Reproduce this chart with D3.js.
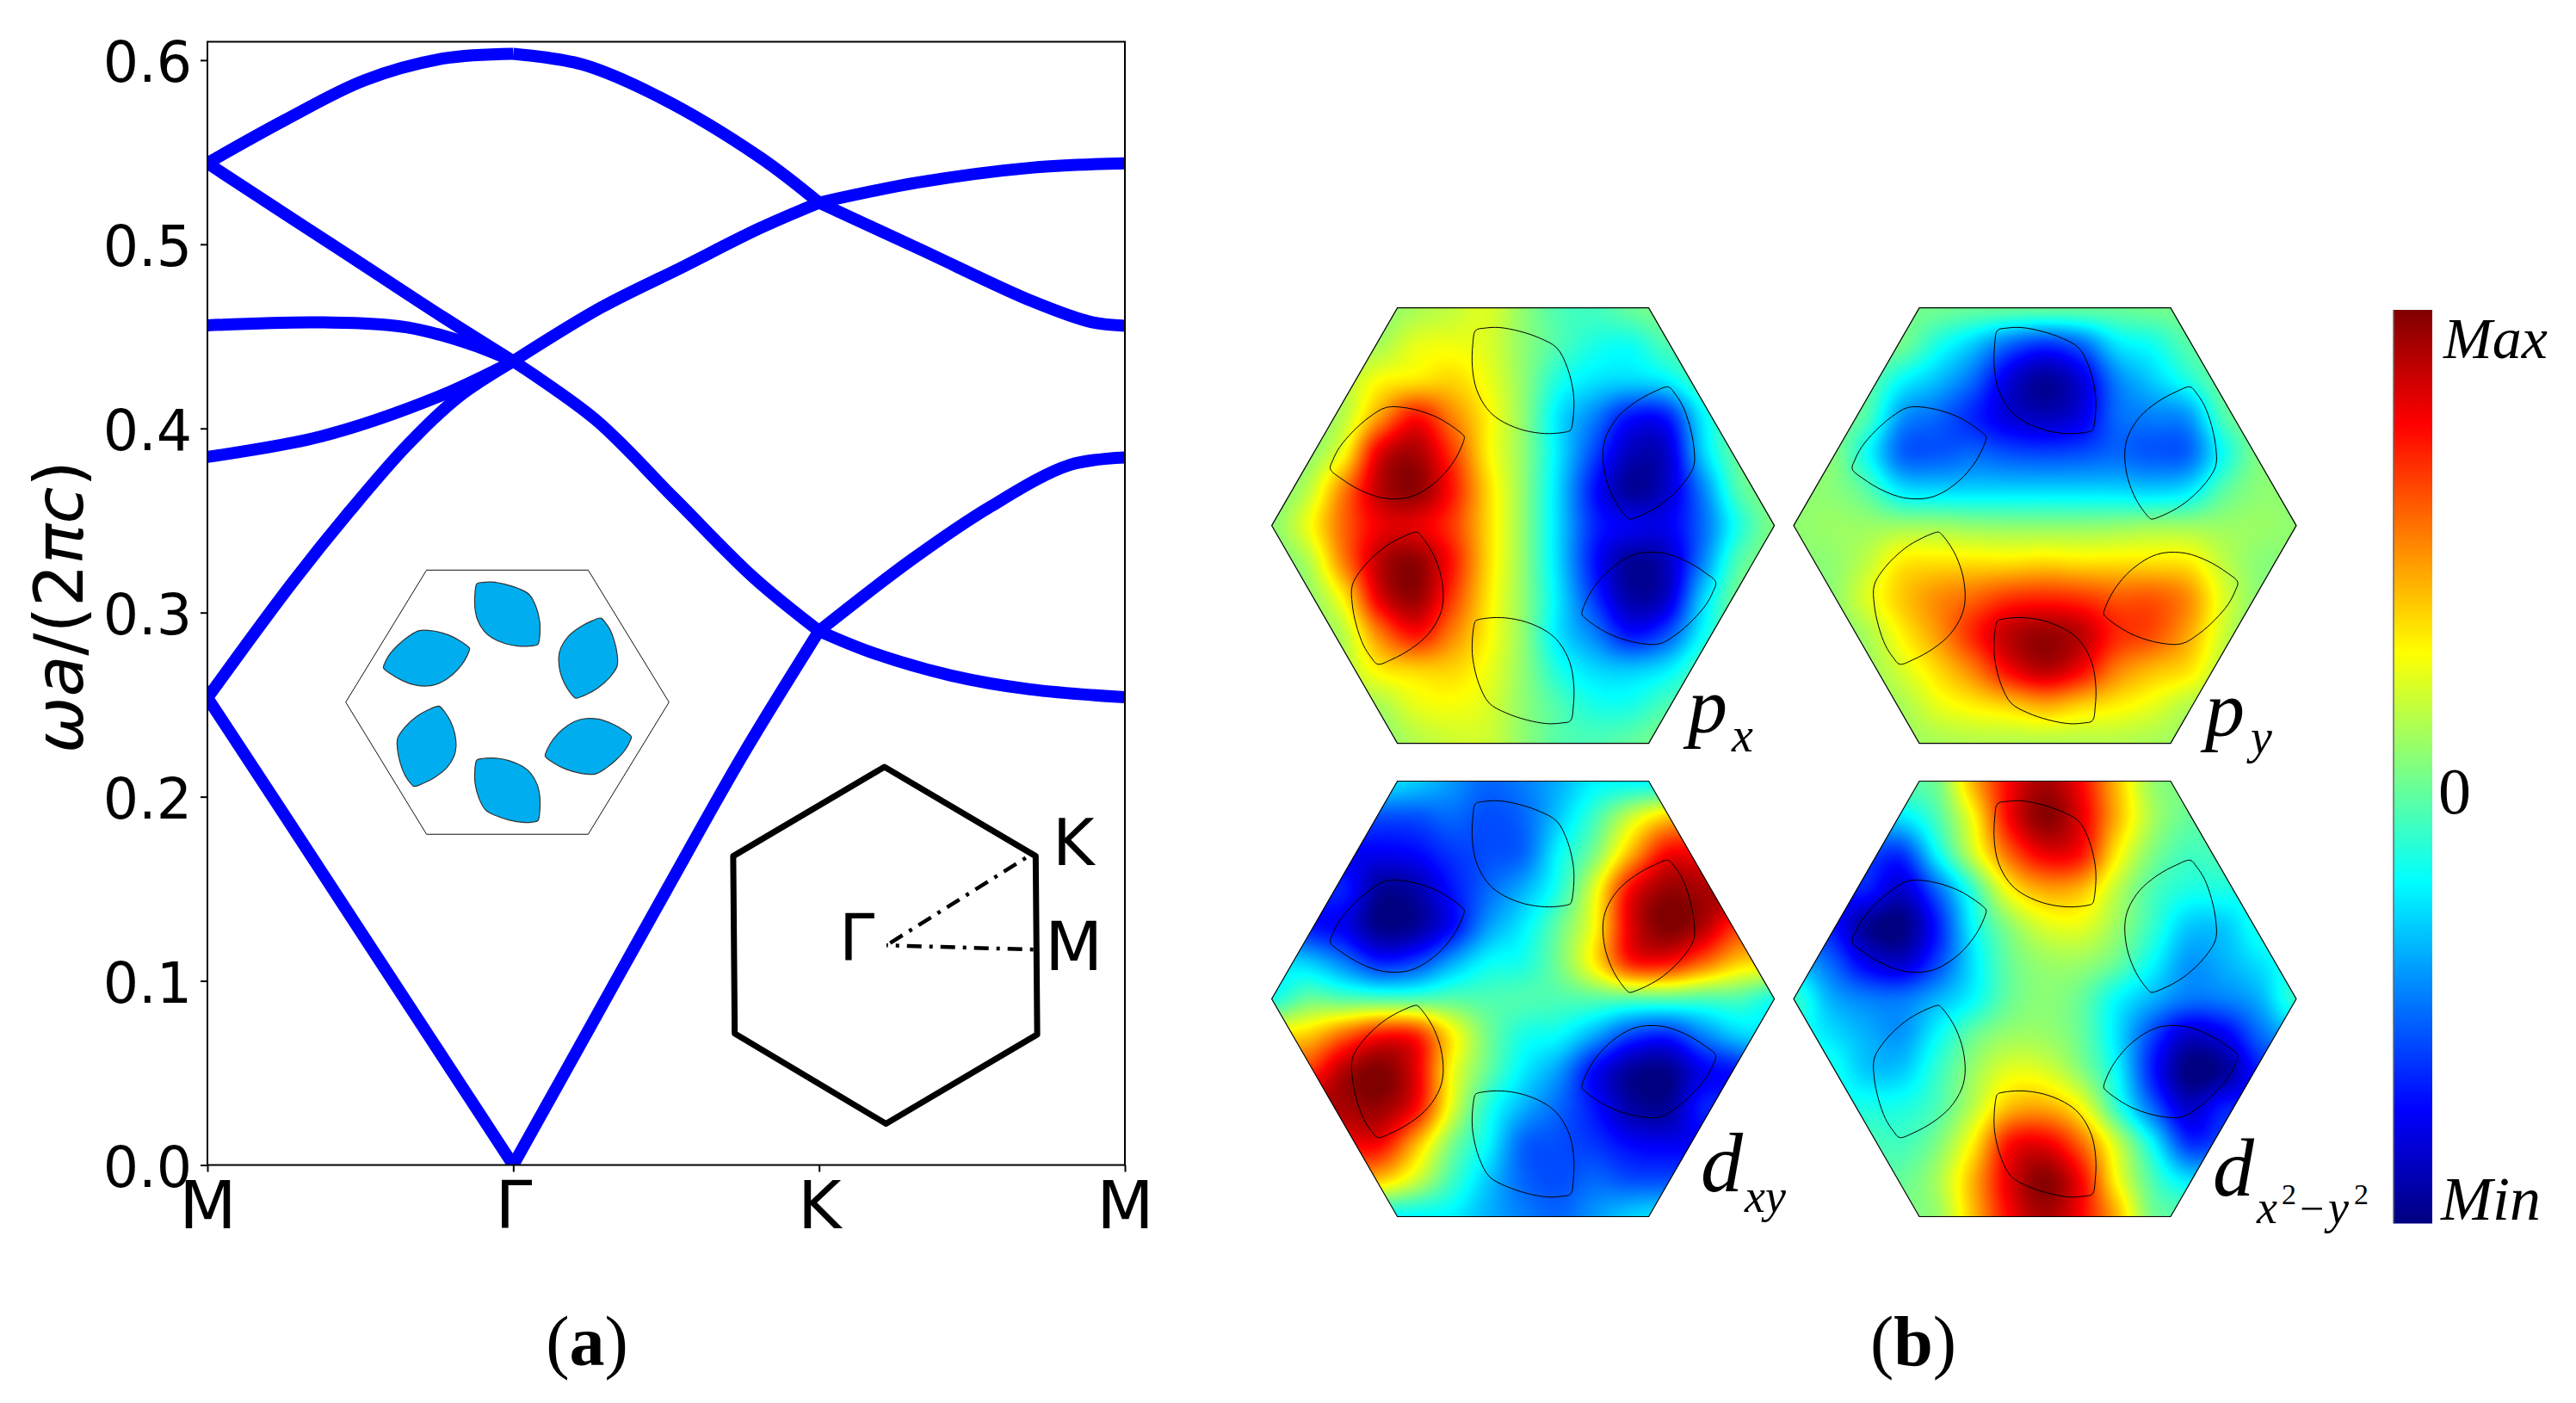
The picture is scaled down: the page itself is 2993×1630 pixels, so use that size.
<!DOCTYPE html>
<html>
<head>
<meta charset="utf-8">
<script src="https://cdn.jsdelivr.net/npm/d3@7"></script>
<style>
  html, body { margin: 0; padding: 0; background: #fff; }
  svg { display: block; }
  text { fill: #000; }
</style>
</head>
<body>
<div id="chart"></div>
<script>
// Band structure branches, [k position, frequency], k: 0 = M, 1 = Gamma, 2 = K, 3 = M
const bandA1 = [[0,.2537],[.25,.1905],[.5,.127],[.75,.0635],[1,0]];
const bandA2 = [[1,0],[1.25,.0745],[1.5,.149],[1.75,.2225],[2,.29]];
const bandB1 = [[0,.2537],[.278,.3163],[.466,.3552],[.654,.391],[.82,.417],[1,.4365]];
const bandB2 = [[1,.4365],[1.289,.4658],[1.548,.4872],[1.806,.5087],[2,.5226]];
const bandC1 = [[0,.3845],[.372,.3957],[.747,.4167],[1,.4365]];
const bandD1 = [[0,.456],[.372,.4576],[.654,.4549],[.85,.4463],[1,.4365]];
const bandE1 = [[0,.5441],[.256,.5162],[.514,.4883],[.772,.4603],[1,.4365]];
const bandE2 = [[1,.4365],[1.269,.4048],[1.527,.362],[1.786,.319],[2,.29]];
const bandF1 = [[0,.5441],[.256,.5677],[.514,.5891],[.772,.6009],[1,.6035]];
const bandF2 = [[1,.6035],[1.225,.5977],[1.483,.5795],[1.806,.5473],[2,.5226]];
const bandK1 = [[2,.29],[2.3025,.3287],[2.561,.3576],[2.82,.3802],[3,.3842]];
const bandK2 = [[2,.29],[2.173,.2783],[2.432,.2658],[2.69,.2583],[3,.254]];
const bandK3 = [[2,.5226],[2.325,.5336],[2.701,.5417],[3,.544]];
const bandK4 = [[2,.5226],[2.325,.4977],[2.701,.4688],[2.889,.4578],[3,.4558]];
const bands = [bandA1,bandA2,bandB1,bandB2,bandC1,bandD1,bandE1,bandE2,bandF1,bandF2,bandK1,bandK2,bandK3,bandK4];

const kTicks = [0, 1, 2, 3];
const kLabels = ["M", "\u0393", "K", "M"];
const freqTicks = [0, .1, .2, .3, .4, .5, .6];

// Field values, 13 rows x 15 columns over the hexagon box
const modePx = [
  [0,0,0,.02,.08,.13,.18,.03,-.1,-.12,-.05,0,0,0,0],
  [0,0,.05,.08,.2,.22,.18,.03,-.1,-.2,-.22,-.1,-.05,0,0],
  [0,0,.1,.25,.3,.33,.22,.03,-.2,-.3,-.33,-.28,-.1,-.03,0],
  [0,.02,.12,.45,.72,.5,.27,.03,-.3,-.5,-.72,-.7,-.28,-.03,0],
  [0,.03,.25,.8,.92,.65,.28,.03,-.3,-.62,-.88,-.85,-.35,-.05,0],
  [0,.12,.5,.88,.97,.72,.33,.03,-.33,-.72,-.95,-.85,-.5,-.1,0],
  [.02,.22,.55,.78,.8,.65,.33,.03,-.33,-.68,-.78,-.78,-.55,-.2,0],
  [0,.1,.5,.88,.97,.72,.33,.03,-.33,-.72,-.95,-.88,-.5,-.1,0],
  [0,.03,.28,.8,.95,.65,.3,.03,-.3,-.65,-.92,-.85,-.35,-.03,0],
  [0,.02,.12,.5,.72,.5,.27,.03,-.3,-.5,-.72,-.6,-.25,-.03,0],
  [0,0,.1,.27,.33,.33,.22,.03,-.2,-.32,-.35,-.28,-.1,-.03,0],
  [0,0,.05,.08,.2,.23,.18,.03,-.1,-.2,-.2,-.1,-.05,0,0],
  [0,0,0,.02,.1,.15,.15,.03,-.08,-.1,-.06,0,0,0,0]
];
const modePy = [
  [0,0,0,-.02,-.03,-.05,-.05,-.05,-.05,-.05,-.03,-.02,0,0,0],
  [0,0,0,-.03,-.2,-.35,-.55,-.65,-.55,-.3,-.22,-.08,-.02,0,0],
  [0,0,-.05,-.25,-.38,-.55,-.82,-.95,-.82,-.5,-.35,-.2,-.03,0,0],
  [0,0,-.1,-.45,-.55,-.68,-.82,-.88,-.8,-.55,-.5,-.45,-.1,0,0],
  [0,.02,-.22,-.55,-.58,-.55,-.6,-.62,-.6,-.55,-.58,-.55,-.22,0,0],
  [.02,.02,-.08,-.3,-.33,-.33,-.33,-.33,-.33,-.33,-.35,-.3,-.08,.02,.02],
  [.03,.05,.05,.05,.05,.03,.02,.02,.02,.03,.05,.05,.05,.05,.03],
  [.02,.03,.12,.28,.3,.3,.3,.32,.3,.3,.3,.28,.12,.02,.02],
  [0,.02,.18,.35,.47,.55,.65,.68,.65,.58,.58,.47,.18,.02,0],
  [0,0,.08,.27,.45,.68,.88,.95,.88,.68,.6,.42,.15,0,0],
  [0,0,.05,.17,.32,.5,.75,.88,.75,.5,.38,.3,.1,0,0],
  [0,0,.03,.08,.2,.27,.33,.4,.33,.27,.2,.1,.05,0,0],
  [0,0,.02,.05,.08,.1,.1,.1,.1,.1,.08,.05,.02,0,0]
];
const modeDxy = [
  [-.3,-.3,-.3,-.3,-.35,-.45,-.55,-.5,-.4,-.27,-.25,-.25,-.25,-.25,-.25],
  [-.5,-.5,-.55,-.6,-.6,-.55,-.6,-.55,-.35,-.12,.15,.35,.4,.4,.4],
  [-.6,-.7,-.75,-.78,-.75,-.65,-.6,-.55,-.25,0,.4,.75,.75,.75,.7],
  [-.7,-.7,-.7,-.95,-.92,-.72,-.55,-.4,-.18,.2,.75,.95,.92,.9,.8],
  [-.5,-.7,-.78,-.98,-.95,-.75,-.45,-.28,-.05,.25,.8,1,.9,.65,.6],
  [-.3,-.35,-.5,-.68,-.62,-.42,-.25,-.2,-.02,.28,.68,.72,.55,.35,.3],
  [-.2,-.05,-.08,-.1,-.1,-.08,-.1,-.1,-.1,-.08,-.08,-.08,-.1,-.1,-.2],
  [.3,.35,.55,.72,.68,.28,-.02,-.2,-.25,-.42,-.62,-.68,-.5,-.35,-.3],
  [.6,.65,.9,1,.8,.25,-.05,-.28,-.45,-.75,-.95,-.98,-.78,-.7,-.5],
  [.8,.9,.92,.95,.75,.2,-.18,-.4,-.55,-.72,-.92,-.95,-.7,-.7,-.7],
  [.7,.75,.75,.75,.4,0,-.25,-.55,-.6,-.65,-.75,-.78,-.75,-.7,-.6],
  [.4,.4,.4,.35,.15,-.12,-.35,-.55,-.6,-.55,-.6,-.6,-.55,-.5,-.5],
  [-.25,-.25,-.25,-.25,-.25,-.27,-.4,-.5,-.55,-.45,-.35,-.3,-.3,-.3,-.3]
];
const modeDx2y2 = [
  [0,0,0,-.05,-.02,.4,.75,.92,.75,.38,.05,0,0,0,0],
  [-.3,-.3,-.3,-.3,-.1,.25,.75,.98,.8,.4,.08,-.05,-.05,-.05,-.05],
  [-.6,-.6,-.6,-.65,-.25,.15,.55,.78,.72,.28,0,-.12,-.1,-.1,-.1],
  [-.7,-.7,-.7,-.85,-.55,-.15,.25,.42,.38,.12,-.1,-.2,-.2,-.2,-.2],
  [-.7,-.7,-.95,-1,-.7,-.25,.02,.18,.2,.05,-.15,-.35,-.35,-.2,-.15],
  [-.4,-.55,-.78,-.85,-.62,-.3,-.05,.05,.05,-.05,-.25,-.45,-.4,-.3,-.2],
  [-.15,-.4,-.5,-.52,-.4,-.25,-.05,.02,-.05,-.25,-.4,-.52,-.5,-.4,-.15],
  [-.2,-.3,-.4,-.45,-.25,-.05,.05,.05,-.05,-.3,-.62,-.85,-.78,-.55,-.4],
  [-.15,-.2,-.35,-.35,-.15,.05,.2,.18,.02,-.25,-.7,-1,-.95,-.7,-.7],
  [-.2,-.2,-.2,-.2,-.1,.12,.38,.42,.25,-.15,-.55,-.85,-.7,-.7,-.7],
  [-.1,-.1,-.1,-.12,0,.28,.72,.78,.55,.15,-.25,-.65,-.6,-.6,-.6],
  [-.05,-.05,-.05,-.05,.08,.4,.8,.98,.75,.25,-.1,-.3,-.3,-.3,-.3],
  [0,0,0,0,.05,.38,.75,.92,.75,.4,-.02,-.05,0,0,0]
];

// Jet colour map
const jetStops = [-1, -.75, -.25, 0, .25, .75, 1];
const jetColors = ["#000080", "#0000ff", "#00ffff", "#80ff80", "#ffff00", "#ff0000", "#800000"];

// One inclusion outline in plot pixels, relative to hexagon centre; the other five are rotations
const leafOutline = [[-55,-226.8],[-44.5,-229.4],[-27.8,-230.1],[-3.8,-225.7],[20.1,-217.5],[39.2,-206.4],
  [51.2,-184.2],[58.4,-154.6],[58.9,-132.4],[56,-112.1],[54.5,-110.2],[39.2,-107.3],[20.1,-107.3],[-3.8,-112.1],
  [-27.8,-123.2],[-42.1,-136.1],[-54.1,-158.3],[-58.9,-184.2],[-58.4,-210.1]];
const leafAngles = [0, 60, 120, 180, 240, 300];

// Brillouin zone sketch, in inset units: corners and path (drawn from the zone edge back to Gamma)
const zoneCorners = [[-.005,-1],[.985,-.5],[.995,.5],[.005,1],[-.985,.495],[-.995,-.5]];
const zonePathK = [[.92,-.49],[.008,.0]];
const zonePathM = [[.97,.024],[.008,.0]];

const width = 2993, height = 1630;
const svg = d3.select("#chart").append("svg").attr("width", width).attr("height", height);
const defs = svg.append("defs");

// ---- panel (a) ----
const x = d3.scaleLinear().domain([0, 3]).range([241, 1307]);
const y = d3.scaleLinear().domain([0, .61]).range([1353.5, 48.5]);

defs.append("clipPath").attr("id", "plotClip").append("rect")
  .attr("x", 241).attr("y", 48.5).attr("width", 1066).attr("height", 1305);

const bandLine = d3.line().x(d => x(d[0])).y(d => y(d[1])).curve(d3.curveCatmullRom.alpha(.5));
svg.append("g").attr("clip-path", "url(#plotClip)")
  .selectAll("path").data(bands).join("path")
  .attr("d", bandLine)
  .attr("fill", "none")
  .attr("stroke", "#0000ff")
  .attr("stroke-width", 14);

svg.append("rect").attr("x", 241).attr("y", 48.5).attr("width", 1066).attr("height", 1305)
  .attr("fill", "none").attr("stroke", "#000").attr("stroke-width", 2);

const yAxis = svg.append("g").attr("transform", "translate(241,0)")
  .call(d3.axisLeft(y).tickValues(freqTicks).tickFormat(d3.format(".1f")).tickSize(8).tickPadding(10));
yAxis.select(".domain").remove();
yAxis.selectAll("line").attr("stroke-width", 2);
yAxis.selectAll("text").attr("font-family", "DejaVu Sans").attr("font-size", 65).attr("fill", "#000").attr("dy", ".38em");

const xAxis = svg.append("g").attr("transform", "translate(0,1353.5)")
  .call(d3.axisBottom(x).tickValues(kTicks).tickFormat((d, i) => kLabels[i]).tickSize(8).tickPadding(11));
xAxis.select(".domain").remove();
xAxis.selectAll("line").attr("stroke-width", 2);
xAxis.selectAll("text").attr("font-family", "DejaVu Sans").attr("font-size", 77).attr("fill", "#000");

// y axis label, italics as in mathtext
const yLabel = svg.append("text")
  .attr("transform", "translate(96,705) rotate(-90)")
  .attr("text-anchor", "middle")
  .attr("font-family", "DejaVu Sans")
  .attr("font-size", 78);
[["\u03c9a", "italic"], ["/(2", "normal"], ["\u03c0c", "italic"], [")", "normal"]].forEach(p => {
  yLabel.append("tspan").attr("font-style", p[1]).text(p[0]);
});

// unit cell inset
const hexUnit = d3.range(6).map(i => [Math.cos(i * Math.PI / 3), Math.sin(i * Math.PI / 3)]);

function rotated(points, deg) {
  const a = deg * Math.PI / 180, c = Math.cos(a), s = Math.sin(a);
  return points.map(p => [p[0] * c - p[1] * s, p[0] * s + p[1] * c]);
}

function leafPaths(g, sx, sy, fill, strokeW, strokeCol) {
  const line = d3.line().x(d => sx * d[0]).y(d => sy * d[1]).curve(d3.curveCatmullRomClosed.alpha(.5));
  g.selectAll("path.leaf").data(leafAngles).join("path")
    .attr("class", "leaf")
    .attr("d", a => line(rotated(leafOutline, a)))
    .attr("fill", fill)
    .attr("stroke", strokeCol)
    .attr("stroke-width", strokeW);
}

const inset = svg.append("g").attr("transform", "translate(589.5,815.8)");
const insetHex = d3.line().x(d => 187.8 * d[0]).y(d => 177.2 * d[1]).curve(d3.curveLinearClosed);
inset.append("path").attr("d", insetHex(hexUnit)).attr("fill", "none").attr("stroke", "#111").attr("stroke-width", 1);
leafPaths(inset, .643, .607, "#00aeef", 1.2, "#333");

// Brillouin zone inset
const zx = d3.scaleLinear().domain([-1, 1]).range([851, 1206]);
const zy = d3.scaleLinear().domain([-1, 1]).range([891, 1305.5]);
const zoneLine = d3.line().x(d => zx(d[0])).y(d => zy(d[1]));
svg.append("path").attr("d", zoneLine.curve(d3.curveLinearClosed)(zoneCorners))
  .attr("fill", "none").attr("stroke", "#000").attr("stroke-width", 7).attr("stroke-linejoin", "round");
const pathLine = d3.line().x(d => zx(d[0])).y(d => zy(d[1]));
[zonePathK, zonePathM].forEach(p => {
  svg.append("path").attr("d", pathLine(p)).attr("fill", "none").attr("stroke", "#000")
    .attr("stroke-width", 4.5).attr("stroke-dasharray", "4 9 17 9");
});
[["K", 1223, 1005, 74], ["M", 1214, 1127, 78], ["\u0393", 975, 1115, 74]].forEach(t => {
  svg.append("text").attr("x", t[1]).attr("y", t[2])
    .attr("font-family", "DejaVu Sans").attr("font-size", t[3]).text(t[0]);
});

// ---- panel (b) ----
const jet = d3.scaleLinear().domain(jetStops).range(jetColors).clamp(true);
const jetTable = d3.range(1025).map(i => d3.rgb(jet(-1 + i / 512)));

// Catmull-Rom weights, used to draw the read values smoothly
function crWeights(t) {
  return [(-t*t*t + 2*t*t - t) / 2, (3*t*t*t - 5*t*t + 2) / 2, (-3*t*t*t + 4*t*t + t) / 2, (t*t*t - t*t) / 2];
}

function fieldImage(grid, w, h) {
  const canvas = document.createElement("canvas");
  canvas.width = w; canvas.height = h;
  const ctx = canvas.getContext("2d");
  const img = ctx.createImageData(w, h);
  const rows = grid.length, cols = grid[0].length;
  const cx = d3.scaleLinear().domain([0, w - 1]).range([0, cols - 1]);
  const cy = d3.scaleLinear().domain([0, h - 1]).range([0, rows - 1]);
  for (let py = 0; py < h; py++) {
    const gy = cy(py), j0 = Math.min(Math.floor(gy), rows - 2), wy = crWeights(gy - j0);
    for (let px = 0; px < w; px++) {
      const gx = cx(px), i0 = Math.min(Math.floor(gx), cols - 2), wx = crWeights(gx - i0);
      let v = 0;
      for (let a = 0; a < 4; a++) {
        const row = grid[Math.max(0, Math.min(rows - 1, j0 - 1 + a))];
        for (let b = 0; b < 4; b++) {
          v += wy[a] * wx[b] * row[Math.max(0, Math.min(cols - 1, i0 - 1 + b))];
        }
      }
      const c = jetTable[Math.round((Math.max(-1, Math.min(1, v)) + 1) * 512)];
      const k = 4 * (py * w + px);
      img.data[k] = c.r; img.data[k + 1] = c.g; img.data[k + 2] = c.b; img.data[k + 3] = 255;
    }
  }
  ctx.putImageData(img, 0, 0);
  return canvas.toDataURL();
}

const modes = [
  {grid: modePx, cx: 1769.6, cy: 610.6},
  {grid: modePy, cx: 2376, cy: 610.6},
  {grid: modeDxy, cx: 1769.6, cy: 1160.5},
  {grid: modeDx2y2, cx: 2376, cy: 1160.5}
];
const hexR = 292, hexH = 253;
const hexLine = d3.line().x(d => hexR * d[0]).y(d => hexH / Math.sin(Math.PI / 3) * d[1]).curve(d3.curveLinearClosed);
defs.append("clipPath").attr("id", "hexClip").append("path").attr("d", hexLine(hexUnit));

modes.forEach(m => {
  const g = svg.append("g").attr("transform", `translate(${m.cx},${m.cy})`);
  g.append("image")
    .attr("x", -hexR).attr("y", -hexH).attr("width", 2 * hexR).attr("height", 2 * hexH)
    .attr("preserveAspectRatio", "none")
    .attr("clip-path", "url(#hexClip)")
    .attr("href", fieldImage(m.grid, 2 * hexR, 2 * hexH));
  g.append("path").attr("d", hexLine(hexUnit)).attr("fill", "none").attr("stroke", "#000").attr("stroke-width", 1.2);
  leafPaths(g, 1, 1, "none", 1, "#000");
});

// colour bar
const cbarGrad = defs.append("linearGradient").attr("id", "cbar").attr("x1", 0).attr("x2", 0).attr("y1", 1).attr("y2", 0);
cbarGrad.selectAll("stop").data(jetStops).join("stop")
  .attr("offset", d => (d + 1) / 2)
  .attr("stop-color", (d, i) => jetColors[i]);
svg.append("rect").attr("x", 2781).attr("y", 360).attr("width", 45).attr("height", 1061.5)
  .attr("fill", "url(#cbar)");
svg.append("line").attr("x1", 2781).attr("x2", 2781).attr("y1", 360).attr("y2", 1421.5)
  .attr("stroke", "#666").attr("stroke-width", 1.5);

// serif labels: text, x, baseline, size, style, weight
const serifLabels = [
  ["Max", 2839, 416, 68, "italic", "normal"],
  ["Min", 2836, 1417, 72, "italic", "normal"],
  ["0", 2833, 945, 76, "normal", "normal"],
  ["p", 1961, 851, 92, "italic", "normal"],
  ["x", 2012, 873, 56, "italic", "normal"],
  ["p", 2562, 855, 92, "italic", "normal"],
  ["y", 2615, 875, 56, "italic", "normal"],
  ["d", 1976, 1384, 98, "italic", "normal"],
  ["xy", 2027, 1408, 54, "italic", "normal"],
  ["d", 2571, 1389, 96, "italic", "normal"],
  ["x", 2622, 1421, 54, "italic", "normal"],
  ["2", 2651, 1399, 34, "normal", "normal"],
  ["\u2212", 2672, 1421, 50, "normal", "normal"],
  ["y", 2705, 1421, 54, "italic", "normal"],
  ["2", 2735, 1399, 34, "normal", "normal"]
];
svg.append("g").selectAll("text").data(serifLabels).join("text")
  .attr("x", d => d[1]).attr("y", d => d[2])
  .attr("font-family", "Liberation Serif")
  .attr("font-size", d => d[3])
  .attr("font-style", d => d[4])
  .attr("font-weight", d => d[5])
  .text(d => d[0]);

// panel captions
[["a", 682], ["b", 2223]].forEach(c => {
  const t = svg.append("text").attr("x", c[1]).attr("y", 1586).attr("text-anchor", "middle")
    .attr("font-family", "Liberation Serif").attr("font-size", 82);
  t.append("tspan").text("(");
  t.append("tspan").attr("font-weight", "bold").text(c[0]);
  t.append("tspan").text(")");
});
</script>
</body>
</html>
